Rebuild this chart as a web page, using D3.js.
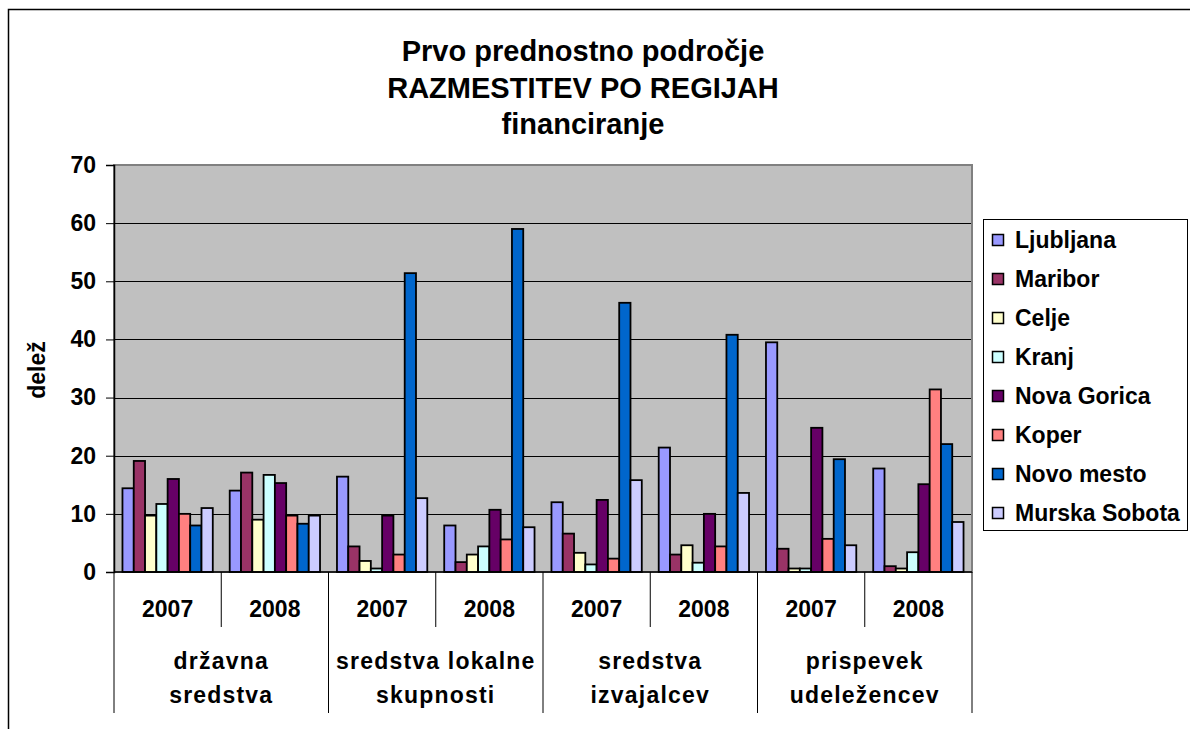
<!DOCTYPE html>
<html>
<head>
<meta charset="utf-8">
<script src="https://cdn.jsdelivr.net/npm/d3@7"></script>
<style>
  body { margin: 0; background: #fff; }
  svg { display: block; font-family: "Liberation Sans", Arial, sans-serif; font-weight: bold; }
</style>
</head>
<body>
<svg id="chart" width="1190" height="729"></svg>
<script>

// Categories: funding source x year.
const groups = ['državna sredstva', 'sredstva lokalne skupnosti', 'sredstva izvajalcev', 'prispevek udeležencev'];
const groupLines = [['državna', 'sredstva'], ['sredstva lokalne', 'skupnosti'], ['sredstva', 'izvajalcev'], ['prispevek', 'udeležencev']];
const years = ['2007', '2008'];

const series = ['Ljubljana', 'Maribor', 'Celje', 'Kranj', 'Nova Gorica', 'Koper', 'Novo mesto', 'Murska Sobota'];
const colors = ['#9999FF', '#993366', '#FFFFCC', '#CCFFFF', '#660066', '#FF8080', '#0066CC', '#CCCCFF'];

// One row per series, one value per category (group/year, in order).
const ljubljana    = [14.4, 14.0, 16.4,  8.0, 12.0, 21.4, 39.5, 17.8];
const maribor      = [19.1, 17.1,  4.4,  1.7,  6.6,  3.0,  4.0,  1.0];
const celje        = [ 9.7,  9.0,  1.9,  3.0,  3.3,  4.6,  0.6,  0.6];
const kranj        = [11.7, 16.7,  0.6,  4.4,  1.3,  1.6,  0.6,  3.4];
const novaGorica   = [16.0, 15.3,  9.7, 10.7, 12.4, 10.0, 24.8, 15.1];
const koper        = [10.0,  9.7,  3.0,  5.6,  2.3,  4.4,  5.7, 31.4];
const novoMesto    = [ 8.0,  8.3, 51.4, 59.0, 46.3, 40.8, 19.4, 22.0];
const murskaSobota = [11.0,  9.7, 12.7,  7.7, 15.8, 13.6,  4.6,  8.6];

const values = [ljubljana, maribor, celje, kranj, novaGorica, koper, novoMesto, murskaSobota];

const yTicks = [0, 10, 20, 30, 40, 50, 60, 70];
const titleLines = ['Prvo prednostno področje', 'RAZMESTITEV PO REGIJAH', 'financiranje'];

const svg = d3.select('#chart');

// Plot area.
const plot = { left: 114, right: 972, top: 165, bottom: 572 };

const categories = [];
groups.forEach((g, gi) => years.forEach((yr, yi) => categories.push(gi * 2 + yi)));

const x0 = d3.scaleBand().domain(categories).range([plot.left, plot.right]).padding(0);
const bw = x0.bandwidth() / 9.5;
const x1 = d3.scaleBand().domain(series).range([0.75 * bw, 8.75 * bw]).padding(0);
const y = d3.scaleLinear().domain([0, 70]).range([plot.bottom, plot.top]);

// Outer chart frame (only top and left visible).
svg.append('path')
  .attr('d', 'M8.5,729V9.5H1190')
  .attr('fill', 'none')
  .attr('stroke', '#000')
  .attr('stroke-width', 1.5);

// Title.
svg.append('g').selectAll('text')
  .data(titleLines)
  .join('text')
  .attr('x', 583)
  .attr('y', (d, i) => 61 + i * 36.5)
  .attr('text-anchor', 'middle')
  .attr('font-size', 29)
  .text(d => d);

// Background.
svg.append('rect')
  .attr('x', plot.left).attr('y', plot.top)
  .attr('width', plot.right - plot.left).attr('height', plot.bottom - plot.top)
  .attr('fill', '#C0C0C0');

// Gridlines.
svg.append('g').selectAll('line')
  .data(yTicks.filter(d => d > 0))
  .join('line')
  .attr('x1', plot.left).attr('x2', plot.right)
  .attr('y1', d => Math.round(y(d)) + 0.5).attr('y2', d => Math.round(y(d)) + 0.5)
  .attr('stroke', '#000')
  .attr('stroke-width', 1);

// Plot border.
svg.append('rect')
  .attr('x', plot.left).attr('y', plot.top)
  .attr('width', plot.right - plot.left).attr('height', plot.bottom - plot.top)
  .attr('fill', 'none')
  .attr('stroke', '#808080')
  .attr('stroke-width', 2);

// Bars.
const cat = svg.append('g').selectAll('g')
  .data(categories)
  .join('g')
  .attr('transform', d => `translate(${x0(d)},0)`);

cat.selectAll('rect')
  .data(c => series.map((s, si) => ({ s, si, v: values[si][c] })))
  .join('rect')
  .attr('x', d => x1(d.s))
  .attr('y', d => y(d.v))
  .attr('width', x1.bandwidth())
  .attr('height', d => y(0) - y(d.v))
  .attr('fill', d => colors[d.si])
  .attr('stroke', '#000')
  .attr('stroke-width', 1.8);

// Y axis.
const yAxis = svg.append('g')
  .attr('transform', `translate(${plot.left},0)`)
  .call(d3.axisLeft(y).tickValues(yTicks).tickSize(8).tickPadding(10));
yAxis.select('.domain').attr('stroke', '#000').attr('stroke-width', 1.5);
yAxis.selectAll('.tick line').attr('stroke', '#000');
yAxis.selectAll('text')
  .attr('font-size', 23)
  .attr('font-weight', 'bold')
  .attr('font-family', '"Liberation Sans", Arial, sans-serif')
  .attr('fill', '#000');

svg.append('text')
  .attr('transform', 'translate(45,370) rotate(-90)')
  .attr('text-anchor', 'middle')
  .attr('font-size', 23)
  .text('delež');

// X axis: bottom line and category separators.
svg.append('line')
  .attr('x1', plot.left).attr('x2', plot.right)
  .attr('y1', plot.bottom).attr('y2', plot.bottom)
  .attr('stroke', '#000').attr('stroke-width', 1.5);

const bounds = d3.range(categories.length + 1);
svg.append('g').selectAll('line')
  .data(bounds)
  .join('line')
  .attr('x1', d => plot.left + d * x0.step())
  .attr('x2', d => plot.left + d * x0.step())
  .attr('y1', plot.bottom)
  .attr('y2', d => d % 2 === 0 ? 713 : 627)
  .attr('stroke', '#000')
  .attr('stroke-width', 1);

// Year labels.
svg.append('g').selectAll('text')
  .data(categories)
  .join('text')
  .attr('x', d => x0(d) + x0.bandwidth() / 2)
  .attr('y', 617)
  .attr('text-anchor', 'middle')
  .attr('font-size', 23)
  .text(d => years[d % 2]);

// Group labels.
svg.append('g').selectAll('text')
  .data(groupLines)
  .join('text')
  .attr('x', (d, i) => x0(i * 2) + x0.step())
  .attr('text-anchor', 'middle')
  .attr('font-size', 23)
  .attr('letter-spacing', 1.2)
  .selectAll('tspan')
  .data(d => d)
  .join('tspan')
  .attr('x', function() { return this.parentNode.getAttribute('x'); })
  .attr('y', (d, i) => 669 + i * 34)
  .text(d => d);

// Legend.
const legend = svg.append('g');
legend.append('rect')
  .attr('x', 983.5).attr('y', 219.5)
  .attr('width', 204).attr('height', 311)
  .attr('fill', '#fff')
  .attr('stroke', '#000')
  .attr('stroke-width', 1);

const item = legend.selectAll('g')
  .data(series)
  .join('g')
  .attr('transform', (d, i) => `translate(0,${240 + i * 39})`);

item.append('rect')
  .attr('x', 992.5).attr('y', -5.5)
  .attr('width', 11).attr('height', 11)
  .attr('fill', (d, i) => colors[i])
  .attr('stroke', '#000')
  .attr('stroke-width', 1.5);

item.append('text')
  .attr('x', 1015)
  .attr('y', 8)
  .attr('font-size', 23)
  .text(d => d);

</script>
</body>
</html>
